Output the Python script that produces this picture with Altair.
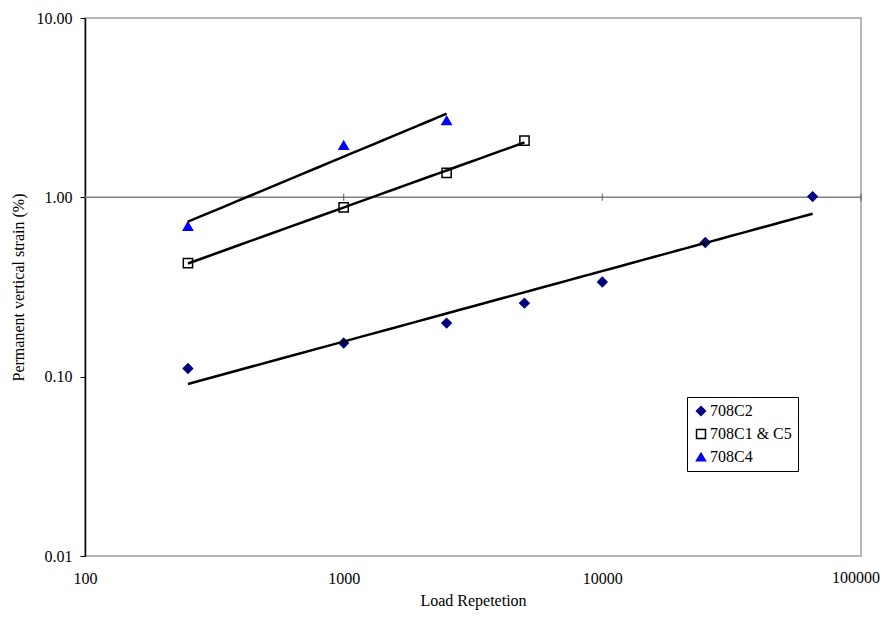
import altair as alt
import pandas as pd

# Data
c2_x = [250, 1000, 2500, 5000, 10000, 25000, 65000]
c2_y = [0.111, 0.154, 0.199, 0.257, 0.337, 0.56, 1.01]
c15_x = [250, 1000, 2500, 5000]
c15_y = [0.43, 0.88, 1.37, 2.07]
c4_x = [250, 1000, 2500]
c4_y = [0.69, 1.95, 2.68]

series_names = ["708C2", "708C1 & C5", "708C4"]
x_ticks = [100, 1000, 10000, 100000]
y_ticks = [0.01, 0.1, 1, 10]
x_cross_ticks = [1000, 10000, 100000]
axis_line_y = [1]

rows = []
for xs, ys, name in [(c2_x, c2_y, series_names[0]), (c15_x, c15_y, series_names[1]), (c4_x, c4_y, series_names[2])]:
    for a, b in zip(xs, ys):
        rows.append({"x": a, "y": b, "series": name})
df = pd.DataFrame(rows)

FONT = "Liberation Serif"

xscale = alt.Scale(type="log", domain=[100, 100000], nice=False)
yscale = alt.Scale(type="log", domain=[0.01, 10], nice=False)

# the last x label is drawn by a text layer (shifted slightly so it is not clipped)
xaxis = alt.Axis(values=x_ticks, format="d", title="Load Repetetion", ticks=False, domain=False,
                 grid=False, labelPadding=14, titlePadding=6, labelFlush=False,
                 labelExpr="datum.value >= 100000 ? '' : datum.label",
                 labelFont=FONT, titleFont=FONT,
                 labelFontSize=16, titleFontSize=16, titleFontWeight="normal", labelColor="black",
                 titleColor="black")
yaxis = alt.Axis(values=y_ticks, format=".2f", title="Permanent vertical strain (%)", grid=False,
                 tickSize=5, tickColor="black", domainColor="black", domainWidth=1.5,
                 labelPadding=8, titlePadding=10, labelFlush=False, labelFont=FONT, titleFont=FONT,
                 labelFontSize=16, titleFontSize=16, titleFontWeight="normal", labelColor="black",
                 titleColor="black")

legend = alt.Legend(title=None, orient="none", legendX=602, legendY=379, strokeColor="black",
                    fillColor="white", padding=6, rowPadding=7, labelFont=FONT, labelFontSize=16,
                    labelColor="black", symbolStrokeWidth=1.5, labelOffset=1, symbolSize=80)

gridline = alt.Chart(pd.DataFrame({"y": axis_line_y})).mark_rule(color="#808080", strokeWidth=1.5).encode(
    y=alt.Y("y:Q", scale=yscale, axis=yaxis)
)

cross_ticks = alt.Chart(pd.DataFrame({"x": x_cross_ticks, "y": [1] * len(x_cross_ticks)})).mark_tick(
    orient="vertical", size=7, thickness=1.2, color="#404040"
).encode(
    x=alt.X("x:Q", scale=xscale, axis=xaxis),
    y=alt.Y("y:Q", scale=yscale),
)

last_label = alt.Chart(pd.DataFrame({"x": [x_ticks[-1]], "y": [y_ticks[0]], "t": [str(x_ticks[-1])]})).mark_text(
    font=FONT, fontSize=16, color="black", baseline="top", align="center", dy=14, dx=-5
).encode(
    x=alt.X("x:Q", scale=xscale),
    y=alt.Y("y:Q", scale=yscale),
    text="t:N",
)

points = alt.Chart(df).mark_point(opacity=1, strokeWidth=1.5, size=85).encode(
    x=alt.X("x:Q", scale=xscale, axis=xaxis),
    y=alt.Y("y:Q", scale=yscale, axis=yaxis),
    shape=alt.Shape("series:N", scale=alt.Scale(domain=series_names, range=["diamond", "square", "triangle-up"]),
                    legend=legend),
    fill=alt.Fill("series:N", scale=alt.Scale(domain=series_names, range=["#000080", "white", "#0000FF"]),
                  legend=legend),
    stroke=alt.Stroke("series:N", scale=alt.Scale(domain=series_names, range=["#000080", "black", "#0000FF"]),
                      legend=legend),
)

trend = alt.Chart(df).transform_regression(
    "x", "y", method="pow", groupby=["series"]
).mark_line(color="black", strokeWidth=2.5).encode(
    x=alt.X("x:Q", scale=xscale),
    y=alt.Y("y:Q", scale=yscale),
    detail="series:N",
)

chart = alt.layer(gridline, cross_ticks, points, trend, last_label).properties(
    width=776, height=538,
    autosize=alt.AutoSizeParams(type="none"),
    padding={"left": 77, "top": 10, "right": 20, "bottom": 57},
).configure_view(
    stroke="#a0a0a0", strokeWidth=1.5, clip=False
)

chart.save("out.html", embed_options={"renderer": "svg", "actions": False})
